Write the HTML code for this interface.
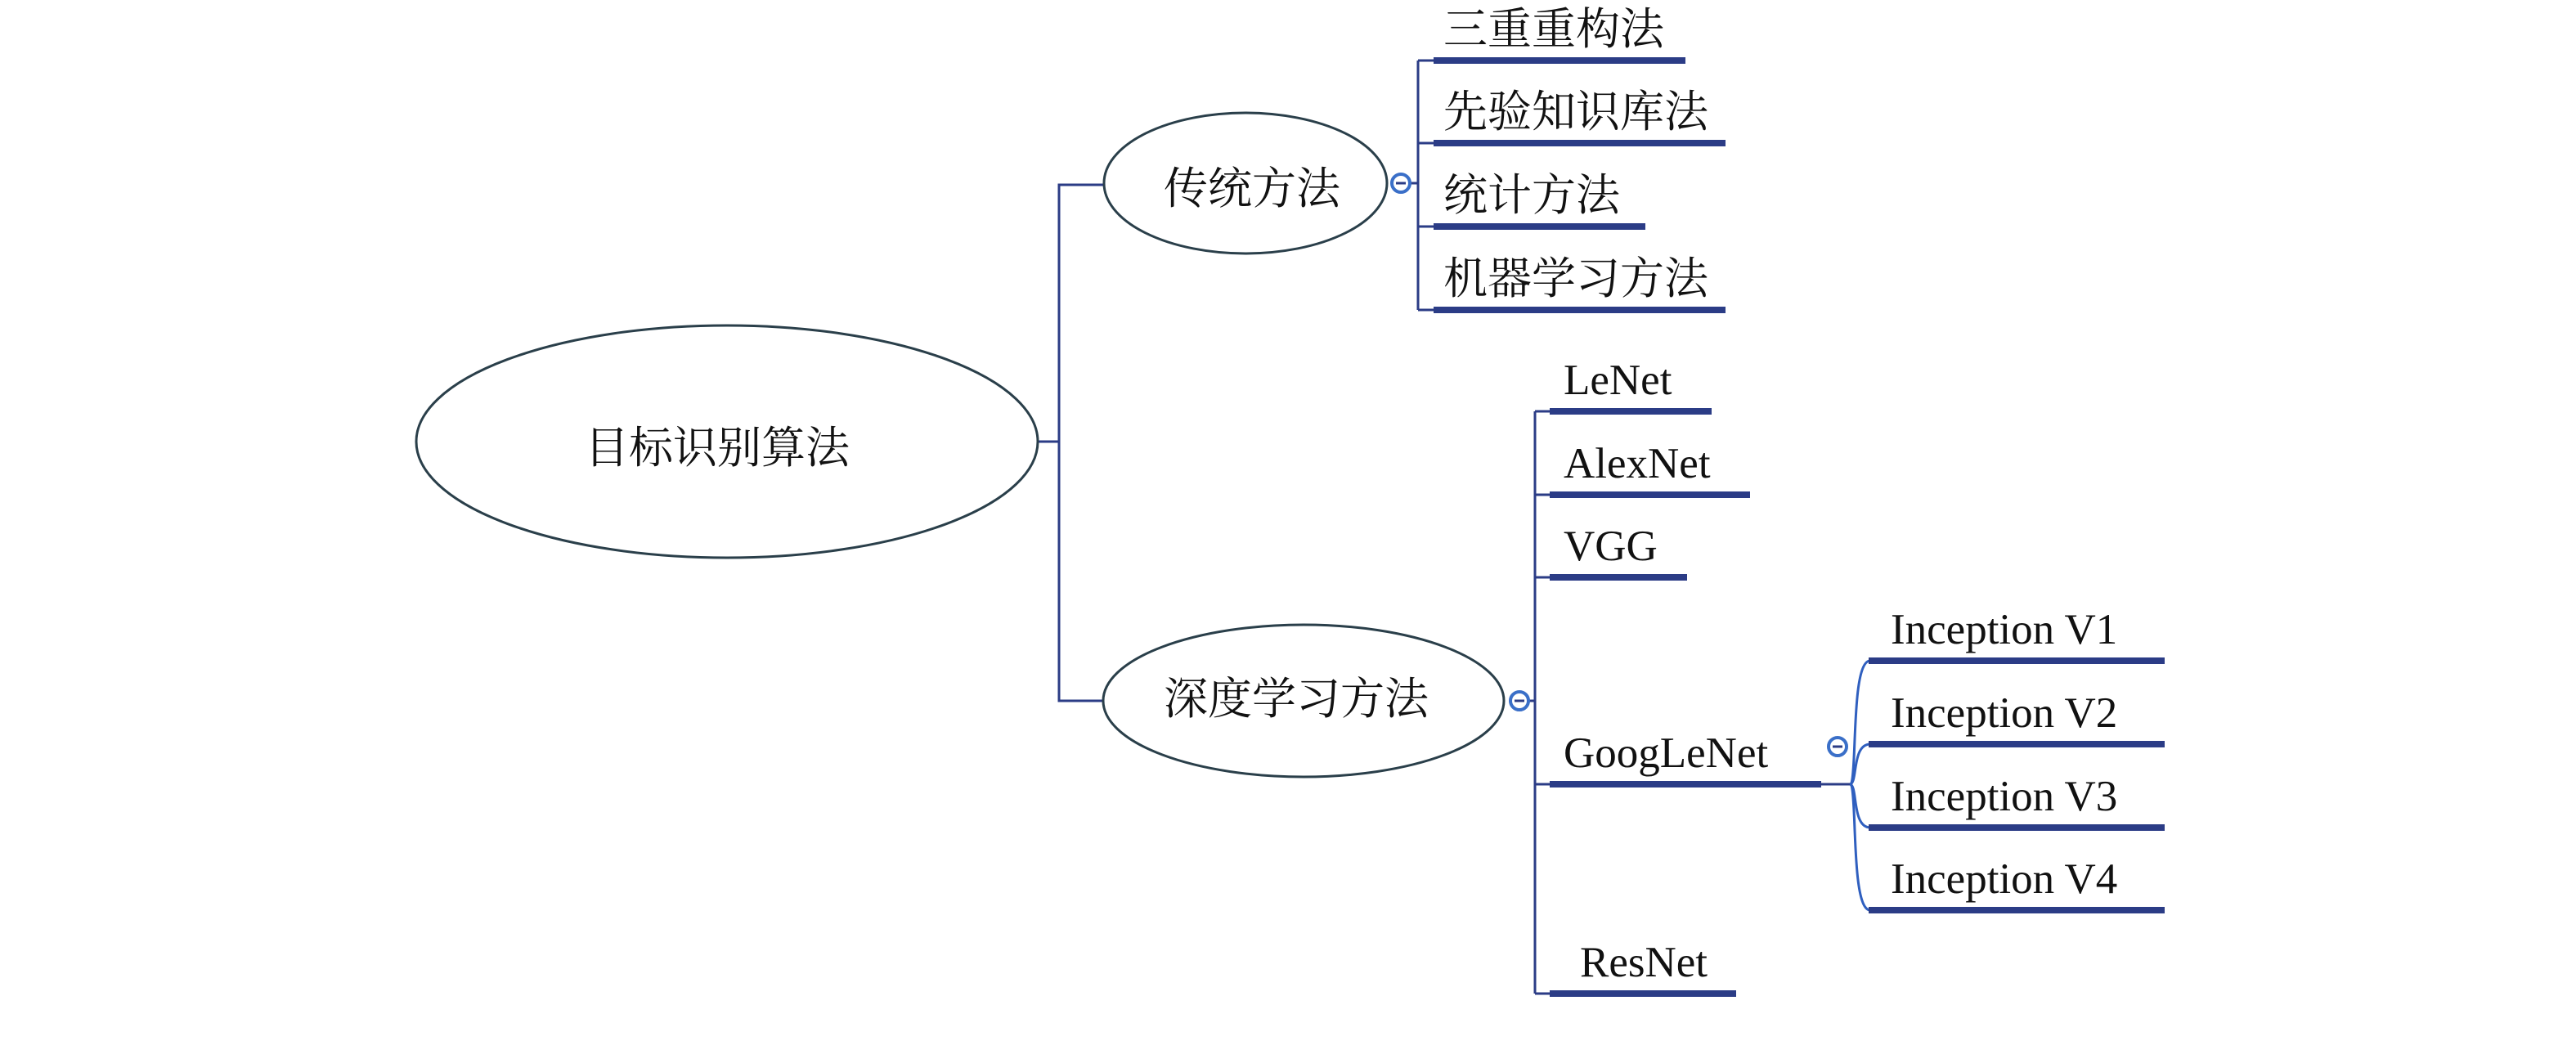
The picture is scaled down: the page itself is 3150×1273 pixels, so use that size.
<!DOCTYPE html>
<html><head><meta charset="utf-8"><style>
html,body{margin:0;padding:0;background:#fff;}
svg{display:block;}
.cj{font-family:"Liberation Serif","Noto Serif CJK SC",serif;font-size:54px;fill:#111;}
.lt{font-family:"Liberation Serif","Noto Serif CJK SC",serif;font-size:53px;fill:#111;}
</style></head><body>
<svg width="3150" height="1273" viewBox="0 0 3150 1273" xmlns="http://www.w3.org/2000/svg">
<g fill="none" stroke="#2b3c86" stroke-width="3">
  <path d="M1269 540 H1295"/>
  <path d="M1350 226 H1295 V857 H1349"/>
  <path d="M1725 224 H1734 M1734 74 V379 M1734 74 H1755 M1734 175 H1755 M1734 277 H1755 M1734 379 H1755"/>
  <path d="M1870 857 H1877 M1877 503 V1215 M1877 503 H1896 M1877 605 H1896 M1877 706 H1896 M1877 959 H1896 M1877 1215 H1896"/>
  <path d="M2227 959 H2262"/>
</g>
<g fill="none" stroke="#2f5fbf" stroke-width="3">
  <path d="M2262 959 C2272 959 2262 808 2287 808"/>
  <path d="M2262 959 C2272 959 2264 910 2287 910"/>
  <path d="M2262 959 C2272 959 2264 1012 2287 1012"/>
  <path d="M2262 959 C2272 959 2262 1113 2287 1113"/>
</g>
<g stroke="#2b3c86" stroke-width="8">
  <path d="M1753 74 H2061 M1753 175 H2110 M1753 277 H2012 M1753 379 H2110"/>
  <path d="M1895 503 H2093 M1895 605 H2140 M1895 706 H2063 M1895 959 H2227 M1895 1215 H2123"/>
  <path d="M2285 808 H2647 M2285 910 H2647 M2285 1012 H2647 M2285 1113 H2647"/>
</g>
<g fill="#fff" stroke="#2a3f4a" stroke-width="3">
  <ellipse cx="889" cy="540" rx="380" ry="142"/>
  <ellipse cx="1523" cy="224" rx="173" ry="86"/>
  <ellipse cx="1594" cy="857" rx="245" ry="93"/>
</g>
<g fill="#fff" stroke="#3a6fc8" stroke-width="4">
  <circle cx="1713" cy="224" r="11"/>
  <circle cx="1858" cy="857" r="11"/>
  <circle cx="2247" cy="913" r="11"/>
</g>
<g stroke="#2b3c86" stroke-width="3">
  <path d="M1707 224 H1719 M1852 857 H1864 M2241 913 H2253"/>
</g>
<text class="cj" x="715" y="566">目标识别算法</text>
<text class="cj" x="1423" y="249">传统方法</text>
<text class="cj" x="1423" y="873">深度学习方法</text>
<text class="cj" x="1765" y="54">三重重构法</text>
<text class="cj" x="1765" y="155">先验知识库法</text>
<text class="cj" x="1765" y="257">统计方法</text>
<text class="cj" x="1765" y="359">机器学习方法</text>
<text class="lt" x="1912" y="482">LeNet</text>
<text class="lt" x="1912" y="584">AlexNet</text>
<text class="lt" x="1912" y="685">VGG</text>
<text class="lt" x="1912" y="938">GoogLeNet</text>
<text class="lt" x="1932" y="1194">ResNet</text>
<text class="lt" x="2312" y="787">Inception V1</text>
<text class="lt" x="2312" y="889">Inception V2</text>
<text class="lt" x="2312" y="991">Inception V3</text>
<text class="lt" x="2312" y="1092">Inception V4</text>
</svg>
</body></html>
